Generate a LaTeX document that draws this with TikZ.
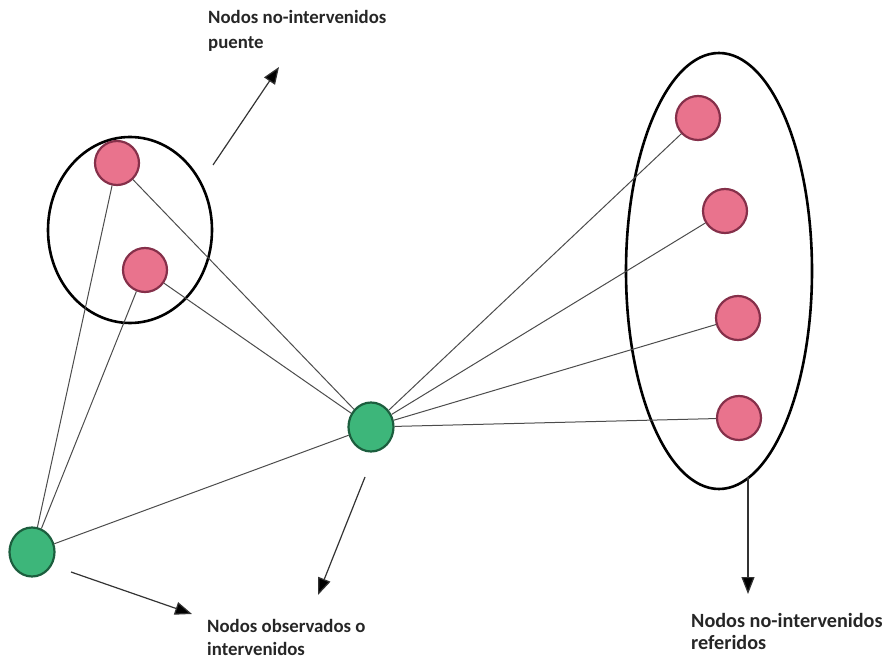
\documentclass[tikz,border=0pt]{standalone}
\usepackage{fontspec}
\setmainfont{Carlito}
\usetikzlibrary{arrows.meta,shapes.geometric}
\definecolor{pinkfill}{HTML}{E9738D}
\definecolor{pinkdraw}{HTML}{85304A}
\definecolor{greenfill}{HTML}{3DB67A}
\definecolor{greendraw}{HTML}{1C5E3E}
\begin{document}
\begin{tikzpicture}[x=1pt,y=-1pt,
  pnode/.style={circle,minimum size=44pt,inner sep=0pt,fill=pinkfill,draw=pinkdraw,line width=2.2pt},
  gnode/.style={ellipse,minimum width=45pt,minimum height=49pt,inner sep=0pt,fill=greenfill,draw=greendraw,line width=2.2pt},
  edge/.style={draw=black!70,line width=1pt},
  grp/.style={draw=black,line width=2.6pt},
  arr/.style={draw=black!80,line width=1.2pt,-{Triangle[length=17pt,width=13pt,fill=black]}},
  lbl/.style={font=\bfseries\fontsize{18.8}{23}\selectfont,align=left,anchor=north west,inner sep=0pt,text=black!85}
]
\useasboundingbox (0,0) rectangle (887,660);
% groups
\draw[grp] (130,230) ellipse [x radius=82, y radius=93];
\draw[grp] (719,271) ellipse [x radius=93, y radius=218];
% nodes
\node[pnode] (p1) at (117,163) {};
\node[pnode] (p2) at (145,270) {};
\node[gnode] (c) at (371,427) {};
\node[gnode] (g) at (32,552) {};
\node[pnode] (r1) at (698,118) {};
\node[pnode] (r2) at (725,211) {};
\node[pnode] (r3) at (738,318) {};
\node[pnode] (r4) at (739,418) {};
% edges
\path[edge] (g) -- (p1);
\path[edge] (g) -- (p2);
\path[edge] (g) -- (c);
\path[edge] (p1) -- (c);
\path[edge] (p2) -- (c);
\path[edge] (c) -- (r1);
\path[edge] (c) -- (r2);
\path[edge] (c) -- (r3);
\path[edge] (c) -- (r4);
% labels
\node[lbl,font=\bfseries\fontsize{18.8}{25}\selectfont] (t1) at (208,10) {Nodos no-intervenidos\\puente};
\node[lbl] (t2) at (207,619) {Nodos observados o\\intervenidos};
\node[lbl,font=\bfseries\fontsize{20.2}{22}\selectfont] (t3) at (691,613) {Nodos no-intervenidos\\referidos};
% arrows
\coordinate (a1s) at (213,165); \coordinate (a1e) at (279,67);
\coordinate (a2s) at (365,477); \coordinate (a2e) at (318,595);
\coordinate (a3s) at (71,572); \coordinate (a3e) at (192,614);
\coordinate (a4s) at (748,477); \coordinate (a4e) at (748,594);
\draw[arr] (a1s) -- (a1e);
\draw[arr] (a2s) -- (a2e);
\draw[arr] (a3s) -- (a3e);
\draw[arr] (a4s) -- (a4e);
\end{tikzpicture}
\end{document}
